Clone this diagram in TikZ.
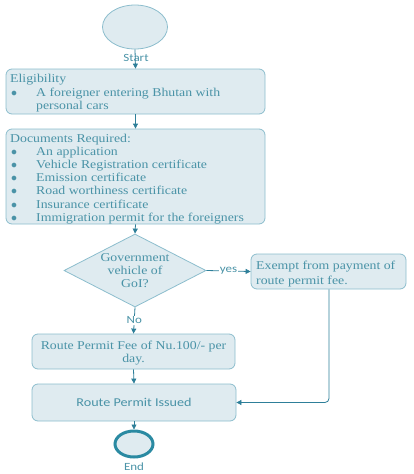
\documentclass[tikz,border=0pt]{standalone}
\usepackage{fontspec}
\setmainfont{Liberation Serif}[FakeStretch=1.15]
\newfontfamily\labelsans{Carlito}[FakeStretch=1.18]
\usetikzlibrary{shapes.geometric,arrows.meta}
\definecolor{boxfill}{HTML}{DFEBF0}
\definecolor{boxline}{HTML}{8CBDCD}
\definecolor{txt}{HTML}{4A93A7}
\definecolor{arr}{HTML}{2E7F99}
\definecolor{endline}{HTML}{2A8AA2}
\tikzset{
  box/.style={draw=boxline, fill=boxfill, rounded corners=6pt, line width=0.8pt, inner sep=0pt},
  txtl/.style={text=txt, anchor=base west, inner sep=0pt, font=\fontsize{12}{13}\selectfont},
  txtc/.style={text=txt, anchor=base, inner sep=0pt, font=\fontsize{12}{13}\selectfont},
  sanslbl/.style={text=txt, inner sep=0pt, font=\labelsans\fontsize{11}{12}\selectfont},
  conn/.style={draw=arr, line width=0.8pt, -{Triangle[length=5pt,width=5pt]}},
}
\begin{document}
\begin{tikzpicture}[x=1pt,y=-1pt]
\useasboundingbox (0,0) rectangle (414,474);
% start
\node[ellipse, draw=boxline, fill=boxfill, line width=0.8pt, minimum width=65pt, minimum height=44pt, inner sep=0pt] (start) at (135,27) {};
\node[sanslbl] (startlbl) at (136,58) {Start};
% eligibility
\node[box, minimum width=259pt, minimum height=45pt] (elig) at (135.5,91.5) {};
\node[txtl] (e1) at (10,82) {Eligibility};
\node[txtl] (e2) at (11,96) {$\bullet$};
\node[txtl] (e3) at (36,96) {A foreigner entering Bhutan with};
\node[txtl] (e4) at (36,109) {personal cars};
% documents
\node[box, minimum width=259pt, minimum height=95pt] (docs) at (135.5,176.5) {};
\node[txtl] (d0) at (10,142) {Documents Required:};
\foreach \t [count=\i] in {An application, Vehicle Registration certificate, Emission certificate, Road worthiness certificate, Insurance certificate, Immigration permit for the foreigners}{
  \node[txtl] (db\i) at (11,142+13.2*\i) {$\bullet$};
  \node[txtl] (dt\i) at (36,142+13.2*\i) {\t};
}
% decision
\node[diamond, draw=boxline, fill=boxfill, line width=0.8pt, minimum width=142pt, minimum height=73pt, inner sep=0pt, shape aspect=1.945] (dec) at (135,270.5) {};
\node[txtc] (g1) at (135,261) {Government};
\node[txtc] (g2) at (135,274) {vehicle of};
\node[txtc] (g3) at (135,287) {GoI?};
% exempt
\node[box, minimum width=155pt, minimum height=35pt] (exempt) at (328.5,271.5) {};
\node[txtl] (x1) at (256,269) {Exempt from payment of};
\node[txtl] (x2) at (256,284) {route permit fee.};
% fee
\node[box, minimum width=203pt, minimum height=35pt] (fee) at (133.5,351.5) {};
\node[txtc] (f1) at (133.5,349) {Route Permit Fee of Nu.100/- per};
\node[txtc] (f2) at (133.5,362) {day.};
% issued
\node[box, minimum width=204pt, minimum height=37pt] (issued) at (134,402.5) {};
\node[sanslbl, font=\labelsans\fontsize{12}{13}\selectfont] (il) at (134,402.5) {Route Permit Issued};
% end
\node[ellipse, draw=endline, fill=boxfill, line width=3pt, minimum width=38pt, minimum height=26pt, inner sep=0pt] (endn) at (134,444) {};
\node[sanslbl] (endlbl) at (134,467) {End};
% connectors
\draw[conn] (start.south) -- (elig.north);
\draw[conn] (elig.south) -- (docs.north);
\draw[conn] (docs.south) -- (dec.north);
\draw[conn] (dec.east) -- node[fill=white, sanslbl, inner xsep=1pt] (yes) {yes} (exempt.west);
\draw[conn] (dec.south) -- node[fill=white, sanslbl, inner ysep=1pt] (no) {No} (fee.north);
\draw[conn] (fee.south) -- (issued.north);
\draw[conn] (issued.south) -- (endn.north);
\draw[conn, rounded corners=4pt] ([xshift=0.5pt]exempt.south) |- (issued.east);
\end{tikzpicture}
\end{document}
